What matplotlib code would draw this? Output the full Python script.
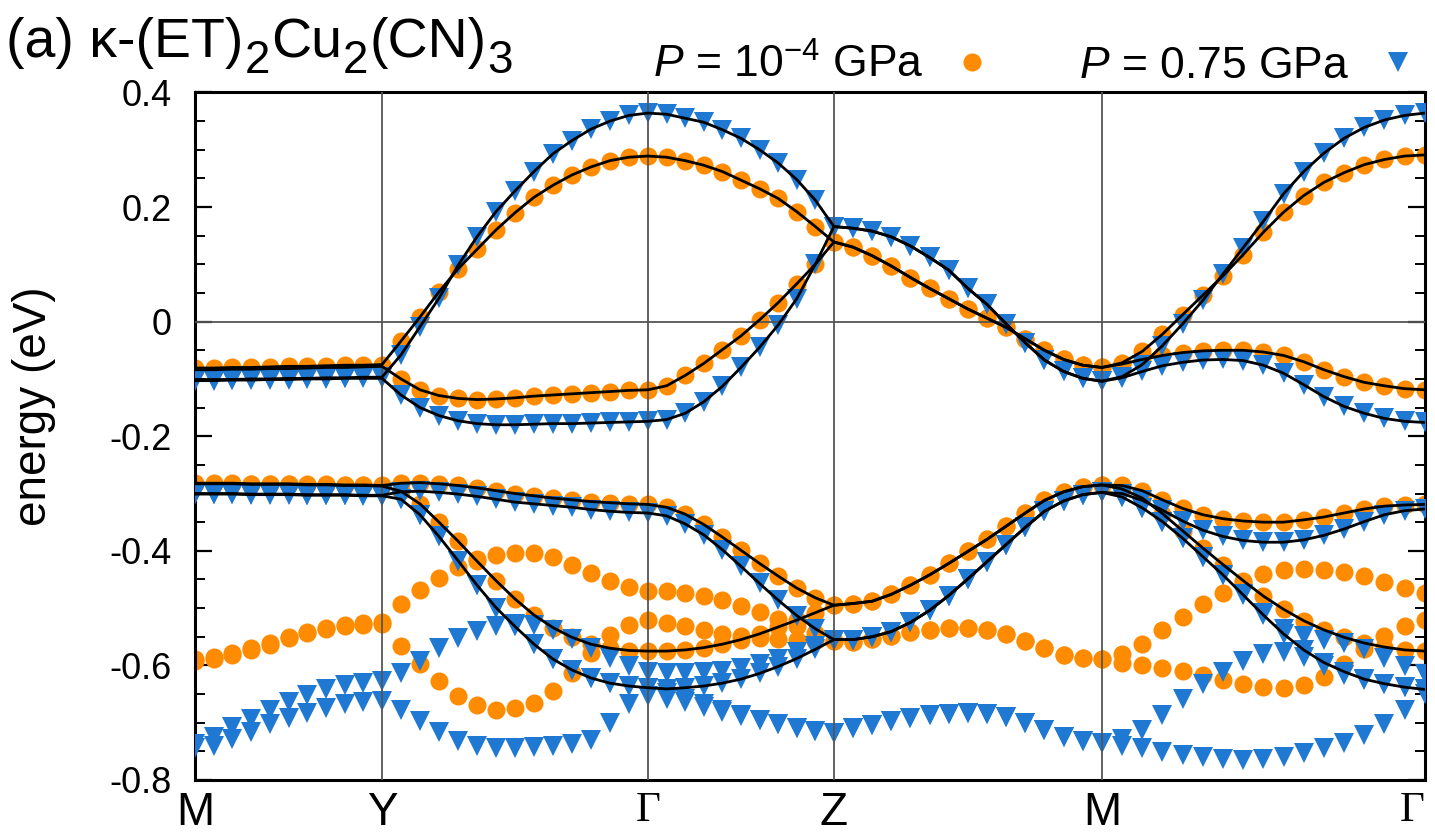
import numpy as np
import matplotlib
matplotlib.use('Agg')
import matplotlib.pyplot as plt
from matplotlib.ticker import MultipleLocator
from matplotlib.lines import Line2D

plt.rcParams['font.family'] = ['Liberation Sans', 'DejaVu Sans']
plt.rcParams['mathtext.fontset'] = 'custom'
plt.rcParams['mathtext.rm'] = 'Liberation Sans'
plt.rcParams['mathtext.it'] = 'Liberation Sans:italic'
plt.rcParams['axes.unicode_minus'] = False

# ---- k-path -------------------------------------------------------------
kpath_labels = ['M', 'Y', 'Γ', 'Z', 'M', 'Γ']
kpath_pos = [0.0, 1.87, 4.53, 6.39, 9.07, 12.30]
seg_npts = [10, 14, 10, 14, 16]

ytick_vals = [0.4, 0.2, 0.0, -0.2, -0.4, -0.6, -0.8]
ytick_text = ['0.4', '0.2', '0', '-0.2', '-0.4', '-0.6', '-0.8']

legend_labels = [r'$P$ = 10$^{-4}$ GPa', r'$P$ = 0.75 GPa']
title_parts = [('(a) κ-(ET)', False), ('2', True), ('Cu', False), ('2', True), ('(CN)', False), ('3', True)]

# ---- P = 1e-4 GPa (orange circles) --------------------------------------
o1 = [-0.081, -0.081, -0.080, -0.080, -0.079, -0.078, -0.078, -0.077, -0.076, -0.076, -0.075,
      -0.034, 0.008, 0.052, 0.092, 0.126, 0.160, 0.190, 0.217, 0.238, 0.256, 0.270, 0.281, 0.287, 0.289,
      0.287, 0.281, 0.273, 0.262, 0.247, 0.232, 0.215, 0.192, 0.166, 0.139,
      0.130, 0.115, 0.097, 0.077, 0.058, 0.040, 0.022, 0.006, -0.010, -0.030, -0.050, -0.066, -0.076, -0.080,
      -0.072, -0.052, -0.022, 0.012, 0.046, 0.080, 0.117, 0.156, 0.191, 0.220, 0.243, 0.260, 0.274, 0.283, 0.289, 0.291]
o2 = [-0.084, -0.084, -0.083, -0.083, -0.082, -0.082, -0.081, -0.080, -0.080, -0.079, -0.078,
      -0.100, -0.119, -0.129, -0.134, -0.136, -0.135, -0.133, -0.130, -0.128, -0.126, -0.124, -0.122, -0.120, -0.119,
      -0.112, -0.094, -0.073, -0.049, -0.025, 0.003, 0.033, 0.066, 0.100, 0.139,
      0.130, 0.115, 0.097, 0.077, 0.058, 0.040, 0.022, 0.006, -0.010, -0.030, -0.050, -0.066, -0.076, -0.080,
      -0.074, -0.066, -0.059, -0.054, -0.051, -0.050, -0.050, -0.053, -0.059, -0.070, -0.084, -0.096, -0.106, -0.112, -0.117, -0.119]
o3 = [-0.282, -0.282, -0.282, -0.283, -0.283, -0.283, -0.284, -0.284, -0.285, -0.285, -0.286,
      -0.282, -0.281, -0.283, -0.286, -0.290, -0.295, -0.300, -0.304, -0.308, -0.311, -0.314, -0.316, -0.318, -0.319,
      -0.324, -0.336, -0.354, -0.376, -0.399, -0.422, -0.444, -0.465, -0.482, -0.495,
      -0.492, -0.488, -0.476, -0.460, -0.442, -0.422, -0.401, -0.380, -0.357, -0.334, -0.312, -0.297, -0.288, -0.285,
      -0.286, -0.295, -0.311, -0.326, -0.337, -0.344, -0.348, -0.350, -0.350, -0.346, -0.341, -0.334, -0.327, -0.322, -0.320, -0.319]
o4 = [-0.283, -0.283, -0.283, -0.284, -0.284, -0.284, -0.285, -0.285, -0.286, -0.286, -0.287,
      -0.296, -0.318, -0.350, -0.383, -0.418, -0.452, -0.484, -0.512, -0.534, -0.551, -0.563, -0.570, -0.574, -0.575,
      -0.575, -0.573, -0.569, -0.563, -0.555, -0.545, -0.533, -0.521, -0.508, -0.495,
      -0.492, -0.488, -0.476, -0.460, -0.442, -0.422, -0.401, -0.380, -0.357, -0.334, -0.312, -0.297, -0.288, -0.285,
      -0.292, -0.308, -0.335, -0.365, -0.395, -0.424, -0.452, -0.479, -0.502, -0.522, -0.538, -0.551, -0.561, -0.568, -0.573, -0.575]
o5 = [-0.589, -0.585, -0.578, -0.570, -0.561, -0.550, -0.541, -0.534, -0.529, -0.526, -0.524,
      -0.493, -0.468, -0.448, -0.428, -0.415, -0.407, -0.403, -0.404, -0.411, -0.424, -0.438, -0.452, -0.463, -0.471,
      -0.471, -0.473, -0.478, -0.486, -0.496, -0.507, -0.519, -0.531, -0.543, -0.557,
      -0.559, -0.554, -0.548, -0.542, -0.538, -0.535, -0.535, -0.539, -0.546, -0.558, -0.570, -0.581, -0.587, -0.589,
      -0.580, -0.562, -0.539, -0.516, -0.493, -0.473, -0.454, -0.441, -0.434, -0.431, -0.433, -0.437, -0.444, -0.454, -0.465, -0.474]
o6 = [-0.592, -0.588, -0.581, -0.573, -0.564, -0.553, -0.544, -0.537, -0.532, -0.529, -0.527,
      -0.566, -0.598, -0.627, -0.653, -0.669, -0.677, -0.675, -0.665, -0.645, -0.614, -0.579, -0.547, -0.530, -0.521,
      -0.526, -0.532, -0.539, -0.545, -0.549, -0.552, -0.554, -0.556, -0.557, -0.558,
      -0.559, -0.554, -0.548, -0.542, -0.538, -0.535, -0.535, -0.539, -0.546, -0.558, -0.570, -0.581, -0.587, -0.589,
      -0.595, -0.600, -0.605, -0.610, -0.616, -0.625, -0.632, -0.637, -0.639, -0.635, -0.620, -0.597, -0.572, -0.549, -0.532, -0.520]

# ---- P = 0.75 GPa (blue triangles) ----------------------------------------
b1 = [-0.101, -0.101, -0.101, -0.100, -0.100, -0.099, -0.099, -0.098, -0.098, -0.097, -0.097,
      -0.058, -0.009, 0.041, 0.098, 0.148, 0.192, 0.228, 0.262, 0.293, 0.316, 0.336, 0.350, 0.360, 0.364,
      0.362, 0.355, 0.348, 0.335, 0.320, 0.300, 0.277, 0.248, 0.212, 0.166,
      0.163, 0.158, 0.148, 0.132, 0.112, 0.090, 0.058, 0.030, -0.004, -0.037, -0.067, -0.087, -0.099, -0.104,
      -0.096, -0.075, -0.042, -0.004, 0.037, 0.083, 0.129, 0.175, 0.223, 0.262, 0.294, 0.320, 0.339, 0.352, 0.360, 0.364]
b2 = [-0.103, -0.103, -0.102, -0.102, -0.101, -0.101, -0.100, -0.100, -0.099, -0.099, -0.099,
      -0.128, -0.150, -0.164, -0.173, -0.178, -0.180, -0.180, -0.179, -0.178, -0.178, -0.177, -0.176, -0.175, -0.174,
      -0.171, -0.160, -0.140, -0.113, -0.080, -0.045, -0.006, 0.040, 0.100, 0.166,
      0.163, 0.158, 0.148, 0.132, 0.112, 0.090, 0.058, 0.030, -0.004, -0.037, -0.067, -0.087, -0.099, -0.104,
      -0.098, -0.087, -0.077, -0.071, -0.067, -0.066, -0.068, -0.076, -0.090, -0.110, -0.131, -0.148, -0.160, -0.169, -0.174, -0.176]
b3 = [-0.300, -0.300, -0.300, -0.301, -0.301, -0.301, -0.302, -0.302, -0.302, -0.303, -0.303,
      -0.297, -0.296, -0.298, -0.301, -0.305, -0.310, -0.315, -0.318, -0.321, -0.324, -0.328, -0.331, -0.333, -0.334,
      -0.339, -0.353, -0.372, -0.398, -0.427, -0.457, -0.486, -0.513, -0.536, -0.555,
      -0.555, -0.550, -0.541, -0.525, -0.504, -0.478, -0.449, -0.419, -0.389, -0.359, -0.331, -0.313, -0.302, -0.298,
      -0.300, -0.312, -0.329, -0.348, -0.364, -0.375, -0.382, -0.385, -0.385, -0.381, -0.373, -0.362, -0.349, -0.337, -0.330, -0.327]
b4 = [-0.301, -0.301, -0.301, -0.302, -0.302, -0.302, -0.303, -0.303, -0.303, -0.304, -0.304,
      -0.310, -0.337, -0.375, -0.417, -0.460, -0.499, -0.532, -0.563, -0.589, -0.608, -0.622, -0.631, -0.636, -0.639,
      -0.641, -0.639, -0.636, -0.631, -0.624, -0.614, -0.602, -0.588, -0.572, -0.555,
      -0.555, -0.550, -0.541, -0.525, -0.504, -0.478, -0.449, -0.419, -0.389, -0.359, -0.331, -0.313, -0.302, -0.298,
      -0.306, -0.325, -0.349, -0.378, -0.410, -0.442, -0.477, -0.512, -0.545, -0.573, -0.595, -0.611, -0.624, -0.632, -0.638, -0.642]
b5 = [-0.737, -0.725, -0.707, -0.693, -0.678, -0.664, -0.652, -0.642, -0.635, -0.630, -0.628,
      -0.614, -0.593, -0.570, -0.553, -0.540, -0.532, -0.528, -0.530, -0.539, -0.554, -0.570, -0.587, -0.601, -0.612,
      -0.613, -0.613, -0.612, -0.609, -0.604, -0.597, -0.588, -0.577, -0.567, -0.556,
      -0.555, -0.550, -0.541, -0.525, -0.504, -0.478, -0.449, -0.419, -0.389, -0.359, -0.331, -0.313, -0.302, -0.298,
      -0.306, -0.325, -0.349, -0.378, -0.410, -0.442, -0.476, -0.509, -0.536, -0.549, -0.555, -0.561, -0.572, -0.587, -0.601, -0.615]
b6 = [-0.745, -0.740, -0.728, -0.716, -0.703, -0.692, -0.683, -0.674, -0.668, -0.664, -0.663,
      -0.677, -0.697, -0.716, -0.732, -0.740, -0.744, -0.744, -0.742, -0.740, -0.737, -0.730, -0.700, -0.668, -0.654,
      -0.658, -0.664, -0.672, -0.681, -0.689, -0.696, -0.703, -0.709, -0.714, -0.718,
      -0.710, -0.704, -0.697, -0.691, -0.687, -0.684, -0.683, -0.685, -0.690, -0.700, -0.713, -0.725, -0.732, -0.736,
      -0.740, -0.745, -0.751, -0.756, -0.760, -0.763, -0.765, -0.764, -0.760, -0.753, -0.745, -0.736, -0.721, -0.702, -0.677, -0.650]
b7 = [-0.300, -0.300, -0.300, -0.301, -0.301, -0.301, -0.302, -0.302, -0.302, -0.303, -0.304,
      -0.310, -0.337, -0.375, -0.417, -0.460, -0.499, -0.532, -0.563, -0.589, -0.608, -0.622, -0.631, -0.636, -0.639,
      -0.648, -0.658, -0.668, -0.678, -0.687, -0.695, -0.702, -0.709, -0.714, -0.718,
      -0.710, -0.704, -0.697, -0.691, -0.687, -0.684, -0.683, -0.685, -0.690, -0.700, -0.713, -0.725, -0.732, -0.736,
      -0.728, -0.712, -0.687, -0.658, -0.632, -0.612, -0.593, -0.580, -0.577, -0.585, -0.601, -0.616, -0.626, -0.633, -0.638, -0.642]

orange_bands = [o1, o2, o3, o4, o5, o6]
blue_bands = [b1, b2, b3, b4, b5, b6, b7]
fit_bands = [o1, o2, o3, o4, b1, b2, b3, b4]   # bands with the black fitted lines

# k grid along the path
k = [kpath_pos[0]]
for i, n in enumerate(seg_npts):
    k.extend(np.linspace(kpath_pos[i], kpath_pos[i + 1], n + 1)[1:])
k = np.array(k)

ORANGE = '#ff8c00'
BLUE = '#1f78d1'
MS_O = 13
MS_B = 14

W, H = 1435, 836
fig = plt.figure(figsize=(W / 100, H / 100), dpi=100)
ax = fig.add_axes([0.1359, 0.067, 0.857, 0.8224])

for band in orange_bands:
    ax.plot(k, band, ls='none', marker='o', ms=MS_O, mew=0, color=ORANGE, zorder=2)
for band in blue_bands:
    ax.plot(k, band, ls='none', marker='v', ms=MS_B, mew=0, color=BLUE, zorder=3)

for x in kpath_pos[1:-1]:
    ax.axvline(x, color='#555555', lw=1.3, zorder=4)
ax.axhline(0.0, color='#555555', lw=1.3, zorder=4)

for band in fit_bands:
    ax.plot(k, band, color='black', lw=2.0, zorder=5)

ax.set_xlim(kpath_pos[0], kpath_pos[-1])
ax.set_ylim(-0.8, 0.4)
ax.set_xticks(kpath_pos)
ax.set_xticklabels(kpath_labels, fontsize=33)
xlabs = ax.get_xticklabels()
for lab in xlabs:
    if lab.get_text() == 'Γ':
        lab.set_fontfamily(['Liberation Serif', 'DejaVu Serif'])
        lab.set_fontsize(31)
xlabs[-1].set_horizontalalignment('right')
ax.tick_params(axis='x', length=0, pad=8)

ax.set_yticks(ytick_vals)
ax.set_yticklabels(ytick_text, fontsize=26)
ax.yaxis.set_minor_locator(MultipleLocator(0.05))
ax.tick_params(axis='y', which='major', direction='in', length=12, width=1.6, left=True, right=True, pad=17)
ax.tick_params(axis='y', which='minor', direction='in', length=7, width=1.4, left=True, right=True)
ax.set_ylabel('energy (eV)', fontsize=33)
ax.yaxis.set_label_coords(-0.113, 0.543)

for s in ax.spines.values():
    s.set_linewidth(2.2)

# title built piece by piece so the subscripts can be large, as in the original
renderer = fig.canvas.get_renderer()
x_px = 6.0
base_px = H - 57.0
for txt, is_sub in title_parts:
    fs = 33 if is_sub else 40
    y_px = base_px - 16 if is_sub else base_px
    t = fig.text(x_px / W, y_px / H, txt, fontsize=fs, ha='left', va='baseline')
    x_px = t.get_window_extent(renderer).x1 + 1

handles = [Line2D([], [], ls='none', marker='o', ms=MS_O, mew=0, color=ORANGE),
           Line2D([], [], ls='none', marker='v', ms=MS_B, mew=0, color=BLUE)]
ax.legend(handles, legend_labels, loc='lower right', bbox_to_anchor=(1.0, 0.995), ncol=2,
          frameon=False, markerfirst=False, handlelength=0.8, handletextpad=0.7,
          columnspacing=2.0, fontsize=32, borderaxespad=0.1, borderpad=0.1)

fig.savefig('out.png', dpi=100)
